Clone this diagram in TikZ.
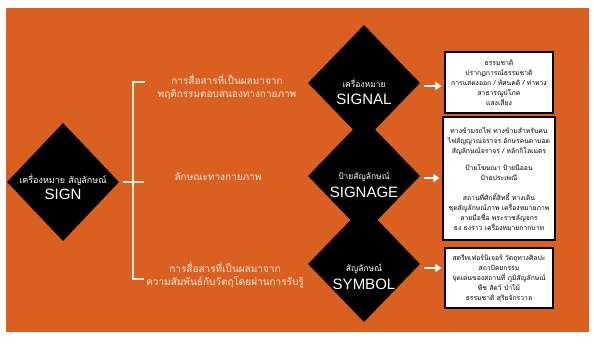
\documentclass[tikz,border=0pt]{standalone}
\usepackage{fontspec}
\setmainfont{Liberation Sans}
\newfontfamily\thaifont[Script=Thai]{Loma}
\usetikzlibrary{shapes.geometric,arrows.meta,calc}
\definecolor{bgorange}{RGB}{217,96,33}
\definecolor{cream}{RGB}{250,234,218}
\begin{document}
\begin{tikzpicture}[x=1pt,y=-1pt,
  dia/.style={diamond,fill=black,minimum width=112pt,minimum height=116pt,inner sep=0pt},
  entext/.style={text=white,font=\fontsize{15}{15}\selectfont,inner sep=0pt},
  thtext/.style={text=white,font=\thaifont\fontsize{8.5}{9}\selectfont,inner sep=0pt},
  lbl/.style={text=cream,font=\thaifont\fontsize{10}{13}\selectfont,align=center,inner sep=0pt},
  infobox/.style={draw=black,line width=1.3pt,fill=white,align=center,inner sep=0pt,
    font=\thaifont\fontsize{6.8}{10}\selectfont},
  bracket/.style={draw=cream,line width=1.4pt},
  arr/.style={draw=white,line width=2pt,-{Triangle[length=6pt,width=8pt]},shorten >=3pt}]
\useasboundingbox (0,0) rectangle (594,343);
\fill[bgorange] (6,8) rectangle (589,332);

% main diamond
\node[dia,minimum width=112pt,minimum height=118pt] (sign) at (63,182) {};
\node[thtext,font=\thaifont\fontsize{9}{9}\selectfont] (signth) at (63,180) {เครื่องหมาย สัญลักษณ์};
\node[entext] (signen) at (63,194) {SIGN};

% right diamonds
\node[dia] (signal) at (364,83) {};
\node[dia] (signage) at (364,176) {};
\node[dia] (symbol) at (364,264) {};
\node[thtext] (signalth) at (364,83) {เครื่องหมาย};
\node[entext] (signalen) at (364,99) {SIGNAL};
\node[thtext] (signageth) at (364,177) {ป้ายสัญลักษณ์};
\node[entext] (signageen) at (364,192) {SIGNAGE};
\node[thtext] (symbolth) at (364,269) {สัญลักษณ์};
\node[entext] (symbolen) at (364,284) {SYMBOL};

% labels
\node[lbl] (l1) at (227,87) {การสื่อสารที่เป็นผลมาจาก\\พฤติกรรมตอบสนองทางกายภาพ};
\node[lbl] (l2) at (218,177) {ลักษณะทางกายภาพ};
\node[lbl] (l3) at (225,275) {การสื่อสารที่เป็นผลมาจาก\\ความสัมพันธ์กับวัตถุโดยผ่านการรับรู้};

% bracket
\coordinate (btopend) at (145,82);
\coordinate (btop) at (133,82);
\coordinate (bbot) at (133,279);
\coordinate (bbotend) at (144,279);
\coordinate (bmidend) at (144,182);
\draw[bracket] (btopend) -- (btop) -- (bbot) -- (bbotend);
\draw[bracket] ([xshift=4pt]sign.east) -- (bmidend);

% boxes
\node[infobox,minimum width=108pt,minimum height=61pt] (b1) at (499,82.5)
  {ธรรมชาติ\\ปรากฏการณ์ธรรมชาติ\\การแสดงออก / ทัศนคติ / ท่าทาง\\สาธารณูปโภค\\แสงเสียง};
\node[infobox,minimum width=112pt,minimum height=123pt] (b2) at (499,178.5)
  {ทางข้ามรถไฟ ทางข้ามสำหรับคน\\ไฟสัญญาณจราจร อักษรคนตาบอด\\สัญลักษณ์จราจร / หลักกิโลเมตร\\[7pt]
   ป้ายโฆษณา ป้ายนีออน\\ป้ายประเพณี\\[10pt]
   สถานที่ศักดิ์สิทธิ์ ทางเดิน\\ชุดสัญลักษณ์ภาพ เครื่องหมายภาพ\\ลายมือชื่อ พระราชลัญจกร\\ธง ธงราว เครื่องหมายกากบาท};
\node[infobox,minimum width=108pt,minimum height=60pt] (b3) at (499,278)
  {สตรีทเฟอร์นิเจอร์ วัตถุทางศิลปะ\\สถาปัตยกรรม\\จุดเด่นของสถานที่ ภูมิสัญลักษณ์\\พืช สัตว์ ป่าไม้\\ธรรมชาติ สุริยจักรวาล};

% arrows
\coordinate (a1) at ([shift={(4,3)}]signal.east);
\coordinate (a2) at ([shift={(4,2)}]signage.east);
\coordinate (a3) at ([shift={(4,4)}]symbol.east);
\draw[arr] (a1) -- (a1 -| b1.west);
\draw[arr] (a2) -- (a2 -| b2.west);
\draw[arr] (a3) -- (a3 -| b3.west);
\end{tikzpicture}
\end{document}
